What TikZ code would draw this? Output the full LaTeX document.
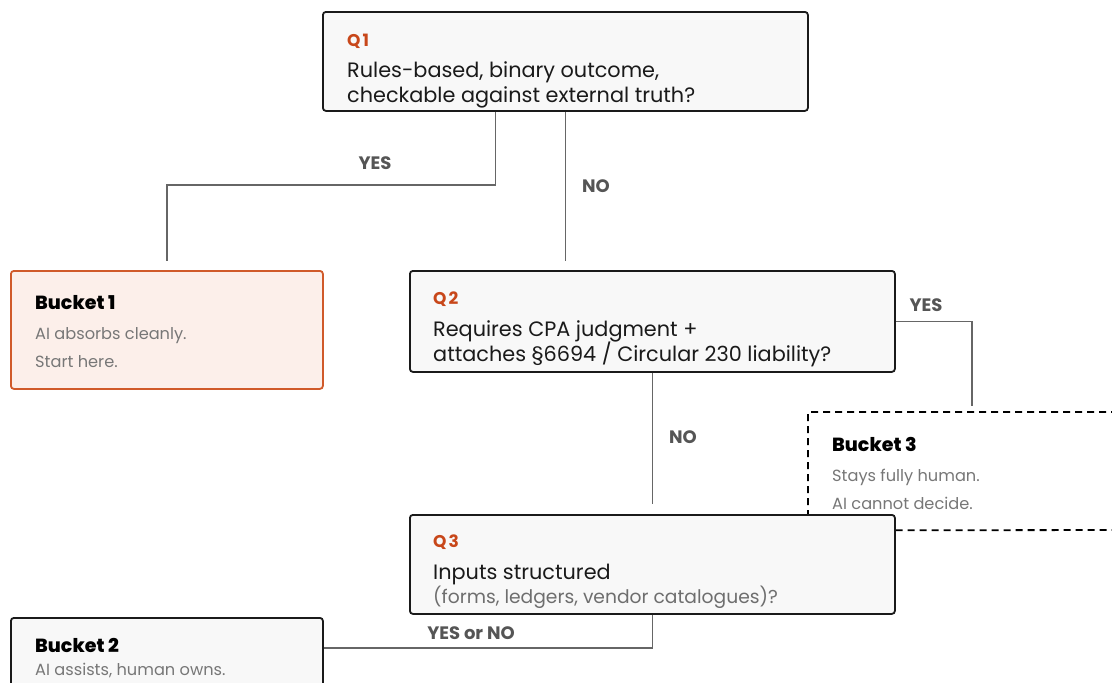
\documentclass[tikz,border=0pt]{standalone}
\usepackage{fontspec}
\setmainfont{Poppins}
\newfontfamily\heavyfont{Poppins ExtraBold}
\definecolor{qorange}{HTML}{C8471A}
\definecolor{bfill}{HTML}{F8F8F8}
\definecolor{b1fill}{HTML}{FCEFEA}
\definecolor{b1line}{HTML}{D05A2A}
\definecolor{conn}{HTML}{666666}
\definecolor{desc}{HTML}{777777}
\definecolor{sub}{HTML}{6E6E6E}
\definecolor{lab}{HTML}{555555}
\definecolor{ink}{HTML}{1A1A1A}
\begin{document}
\begin{tikzpicture}[x=1pt,y=-1pt,
  box/.style={draw=ink,line width=1.8pt,fill=bfill,rounded corners=3pt,inner sep=0pt,anchor=north west},
  b1box/.style={box,draw=b1line,fill=b1fill},
  b3box/.style={inner sep=0pt,anchor=north west},
  qlab/.style={anchor=base west,text=qorange,font=\fontsize{17}{19}\selectfont\bfseries,inner sep=0pt},
  qtxt/.style={anchor=base west,text=ink,font=\fontsize{20.8}{24}\selectfont,inner sep=0pt},
  qsub/.style={anchor=base west,text=sub,font=\fontsize{18.7}{22}\selectfont,inner sep=0pt},
  btitle/.style={anchor=base west,text=black,font=\fontsize{19}{22}\selectfont\heavyfont,inner sep=0pt},
  btxt/.style={anchor=base west,text=desc,font=\fontsize{16.2}{20}\selectfont,inner sep=0pt},
  clab/.style={anchor=base,text=lab,font=\fontsize{18}{20}\selectfont\bfseries,inner sep=0pt},
  conn/.style={draw=conn,line width=1.5pt}]
\useasboundingbox (0,0) rectangle (1112,683);
\fill[white] (0,0) rectangle (1112,683);

% Bucket 3 (behind Q3)
\node[b3box,minimum width=330pt,minimum height=118pt] (b3) at (808,412) {};
\fill[white] (808,412) rectangle (1130,530);
\draw[line width=1.8pt,dash pattern=on 7pt off 5pt] (1130,412) -- (b3.north west) -- (b3.south west) -- (1130,530);
\node[btitle] (b3t) at (832,451) {Bucket 3};
\node[btxt] (b3a) at (832,481) {Stays fully human.};
\node[btxt] (b3b) at (832,509) {AI cannot decide.};

% Q1
\node[box,minimum width=485pt,minimum height=99pt] (q1) at (322,11) {};
\node[qlab] (q1l) at (347,46) {Q\hspace{2pt}1};
\node[qtxt] (q1a) at (347,77) {Rules-based, binary outcome,};
\node[qtxt] (q1b) at (347,102) {checkable against external truth?};

% Bucket 1
\node[b1box,minimum width=312pt,minimum height=118pt] (b1) at (10,270) {};
\node[btitle] (b1t) at (35,309) {Bucket 1};
\node[btxt] (b1a) at (35,339) {AI absorbs cleanly.};
\node[btxt] (b1b) at (35,367) {Start here.};

% Q2
\node[box,minimum width=485pt,minimum height=101pt] (q2) at (409,270) {};
\node[qlab] (q2l) at (433,304) {Q\hspace{2pt}2};
\node[qtxt] (q2a) at (433,336) {Requires CPA judgment +};
\node[qtxt] (q2b) at (433,361) {attaches §6694 / Circular 230 liability?};

% Q3
\node[box,minimum width=485pt,minimum height=99pt] (q3) at (409,514) {};
\node[qlab] (q3l) at (433,547) {Q\hspace{2pt}3};
\node[qtxt] (q3a) at (433,579) {Inputs structured};
\node[qsub] (q3b) at (433,603) {(forms, ledgers, vendor catalogues)?};

% Bucket 2
\node[box,minimum width=312pt,minimum height=100pt] (b2) at (10,617) {};
\node[btitle] (b2t) at (35,652) {Bucket 2};
\node[btxt] (b2a) at (35,675) {AI assists, human owns.};

% connectors
\coordinate (y1) at ([xshift=-70pt]q1.south);
\draw[conn,shorten >=9pt] (y1) |- ([yshift=-73pt]y1 -| b1.north) -- (b1.north);
\draw[conn,shorten >=9pt] (q1.south) -- (q1.south |- q2.north);
\draw[conn,shorten >=6pt] (q2.east) -| ([xshift=164pt]b3.north west);
\draw[conn,shorten >=10pt] (q2.south) -- (q2.south |- q3.north);
\draw[conn] (q3.south) |- (b2.north east |- 0,648);

% labels
\node[clab] (l1) at (375,169) {YES};
\node[clab] (l2) at (596,192) {NO};
\node[clab] (l3) at (926,311) {YES};
\node[clab] (l4) at (683,443) {NO};
\node[clab] (l5) at (471,639) {YES or NO};
\end{tikzpicture}
\end{document}
